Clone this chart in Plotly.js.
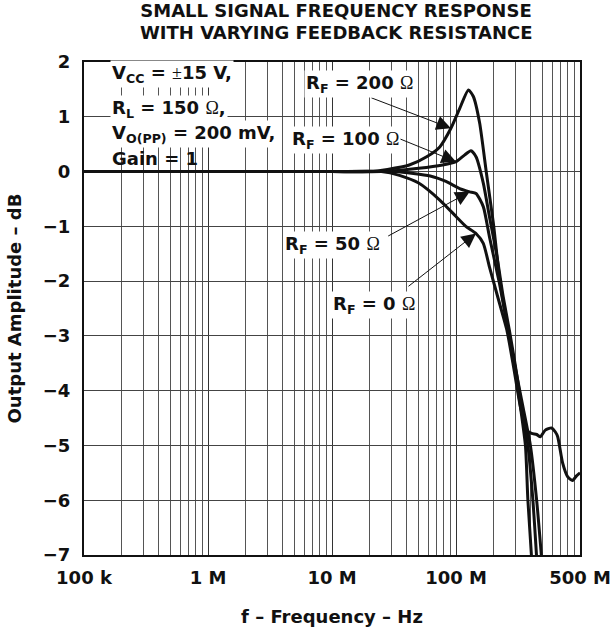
<!DOCTYPE html>
<html><head><meta charset="utf-8">
<script src="https://cdn.plot.ly/plotly-3.0.1.min.js"></script>
<style>html,body{margin:0;padding:0;background:#fff}</style>
</head><body><div id="chart" style="width:614px;height:635px"></div>
<script>
// ---- data ----
const freqRF200 = [1e5, 1e6, 1e7, 2.0e7, 2.8e7, 4.2e7, 5.8e7, 7.4e7, 9.1e7, 1.07e8, 1.26e8, 1.38e8, 1.55e8, 1.76e8, 2.0e8, 2.24e8, 2.63e8, 3.02e8, 3.47e8, 3.98e8, 4.47e8, 4.9e8];
const ampRF200  = [0, 0, 0, 0, 0.04, 0.12, 0.27, 0.45, 0.79, 1.15, 1.49, 1.37, 0.89, -0.03, -0.94, -1.92, -2.89, -3.6, -4.3, -5.0, -6.0, -7.05];

const freqRF100 = [1e5, 1e6, 1e7, 2.5e7, 5.0e7, 7.8e7, 1.0e8, 1.17e8, 1.32e8, 1.45e8, 1.66e8, 1.86e8, 2.14e8, 2.4e8, 2.69e8, 2.99e8, 3.39e8, 3.8e8, 4.17e8, 4.47e8];
const ampRF100  = [0, 0, 0, 0, 0.06, 0.12, 0.18, 0.30, 0.38, 0.27, -0.21, -0.82, -1.55, -2.28, -2.89, -3.5, -4.3, -5.0, -6.0, -7.05];

const freqRF50 = [1e5, 1e6, 1e7, 3.2e7, 6.2e7, 8.3e7, 1.07e8, 1.29e8, 1.45e8, 1.66e8, 1.86e8, 2.24e8, 2.63e8, 2.95e8, 3.31e8, 3.63e8, 3.8e8, 4.07e8];
const ampRF50  = [0, 0, 0, 0, -0.08, -0.18, -0.31, -0.37, -0.40, -0.64, -1.19, -2.04, -2.89, -3.5, -4.3, -5.0, -6.0, -7.05];

const freqRF0 = [1e5, 1e6, 1e7, 2.5e7, 3.5e7, 5.0e7, 7.4e7, 1.0e8, 1.2e8, 1.45e8, 1.66e8, 1.86e8, 2.24e8, 2.57e8, 2.88e8, 3.31e8, 3.72e8, 4.07e8, 4.47e8, 4.79e8, 5.25e8, 5.89e8, 6.31e8, 6.61e8, 7.24e8, 7.94e8, 8.71e8, 9.33e8, 1.0e9];
const ampRF0  = [0, 0, 0, 0, -0.07, -0.21, -0.52, -0.82, -1.00, -1.13, -1.31, -1.74, -2.40, -2.89, -3.5, -4.3, -4.72, -4.78, -4.80, -4.84, -4.72, -4.68, -4.75, -4.84, -5.32, -5.57, -5.64, -5.56, -5.50];

const seriesNames = ['R<sub>F</sub> = 200 Ω', 'R<sub>F</sub> = 100 Ω', 'R<sub>F</sub> = 50 Ω', 'R<sub>F</sub> = 0 Ω'];

const xTickVals = [1e5, 1e6, 1e7, 1e8, 1e9];
const xTickText = ['100 k', '1 M', '10 M', '100 M', '500 M'];
const yTickVals = [2, 1, 0, -1, -2, -3, -4, -5, -6, -7];
const yTickText = ['2', '1', '0', '−1', '−2', '−3', '−4', '−5', '−6', '−7'];
const minorMult = [2, 3, 4, 5, 6, 7, 8, 9];

const conditionLines = ['V<sub>CC</sub> = <span style="font-family:Liberation Serif;font-weight:normal">±</span>15 V,',
                        'R<sub>L</sub> = 150 <span style="font-family:Liberation Serif;font-weight:normal">Ω</span>,',
                        'V<sub>O(PP)</sub> = 200 mV,',
                        'Gain = 1'];

// ---- layout helpers ----
const W = 614, H = 635;
const M = {l: 84, r: 34, t: 62, b: 80};
const PW = W - M.l - M.r, PH = H - M.t - M.b;
const px2paperX = px => (px - M.l) / PW;
const py2paperY = py => (H - M.b - py) / PH;
const FONT = 'DejaVu Sans';
const omega = s => s.replace('Ω', '<span style="font-family:Liberation Serif;font-weight:normal">Ω</span>');

const minorVals = [];
[1e5, 1e6, 1e7, 1e8].forEach(d => minorMult.forEach(m => minorVals.push(d * m)));

const series = [[freqRF200, ampRF200], [freqRF100, ampRF100], [freqRF50, ampRF50], [freqRF0, ampRF0]];
const traces = series.map((s, i) => ({
  x: s[0], y: s[1], type: 'scatter', mode: 'lines', name: seriesNames[i],
  line: {color: '#111', width: 3, shape: 'spline', smoothing: 0.6},
  hoverinfo: 'skip'
}));

// label positions (pixel, left edge & vertical centre) and arrow tails
const labelPos = [[306, 84], [292, 139.5], [285, 244.5], [333, 304.5]];
const tipIdx = [8, 6, 7, 9];
const arrowOff = [[-81, -31], [-59, -24], [-83, 45], [-69, 54]];

const annotations = [];
series.forEach((s, i) => {
  annotations.push({
    xref: 'x', yref: 'y', x: Math.log10(s[0][tipIdx[i]]), y: s[1][tipIdx[i]],
    ax: arrowOff[i][0], ay: arrowOff[i][1], axref: 'pixel', ayref: 'pixel',
    text: '', showarrow: true, arrowhead: 2, arrowsize: 2.9, arrowwidth: 1, arrowcolor: '#111', standoff: 0
  });
});
series.forEach((s, i) => {
  annotations.push({
    xref: 'paper', yref: 'paper', x: px2paperX(labelPos[i][0] - 2), y: py2paperY(labelPos[i][1]),
    xanchor: 'left', yanchor: 'middle', text: omega(seriesNames[i]), showarrow: false,
    bgcolor: '#fff', borderpad: 1,
    font: {family: FONT, size: 18, weight: 'bold', color: '#111'}
  });
});
const condY = [74.5, 109.5, 134, 158.3];
conditionLines.forEach((t, i) => {
  annotations.push({
    xref: 'paper', yref: 'paper', x: px2paperX(110), y: py2paperY(condY[i]),
    xanchor: 'left', yanchor: 'middle', text: t, showarrow: false,
    bgcolor: i < 3 ? '#fff' : 'rgba(0,0,0,0)', borderpad: 1,
    font: {family: FONT, size: 18, weight: 'bold', color: '#111'}
  });
});
annotations.push({
  xref: 'paper', yref: 'paper', x: px2paperX(336), y: py2paperY(33),
  xanchor: 'center', yanchor: 'middle', text: 'WITH VARYING FEEDBACK RESISTANCE', showarrow: false,
  font: {family: FONT, size: 18, weight: 'bold', color: '#111'}
});

const layout = {
  width: W, height: H, margin: {l: M.l, r: M.r, t: M.t, b: M.b, pad: 0},
  paper_bgcolor: '#fff', plot_bgcolor: '#fff', showlegend: false,
  title: {text: 'SMALL SIGNAL FREQUENCY RESPONSE', xref: 'paper', x: px2paperX(336), xanchor: 'center',
          yref: 'container', y: 1 - 11 / H, yanchor: 'middle',
          font: {family: FONT, size: 18, weight: 'bold', color: '#111'}},
  xaxis: {
    type: 'log', range: [5, 9], tickmode: 'array', tickvals: xTickVals, ticktext: xTickText,
    showgrid: true, gridcolor: '#333', gridwidth: 1, zeroline: false,
    minor: {tickmode: 'array', tickvals: minorVals, showgrid: true, gridcolor: '#555', gridwidth: 1, ticks: ''},
    showline: true, linecolor: '#111', linewidth: 2, mirror: true, ticks: '', ticklabelstandoff: 5,
    tickfont: {family: FONT, size: 18, weight: 'bold', color: '#111'},
    title: {text: 'f – Frequency – Hz', standoff: 24, font: {family: FONT, size: 18, weight: 'bold', color: '#111'}}
  },
  yaxis: {
    range: [-7, 2], tickmode: 'array', tickvals: yTickVals, ticktext: yTickText,
    showgrid: true, gridcolor: '#444', gridwidth: 1, zeroline: false,
    showline: true, linecolor: '#111', linewidth: 2, mirror: true, ticks: '', ticklabelstandoff: 8,
    tickfont: {family: FONT, size: 18, weight: 'bold', color: '#111'},
    title: {text: 'Output Amplitude – dB', standoff: 16, font: {family: FONT, size: 18, weight: 'bold', color: '#111'}}
  },
  annotations: annotations
};

Plotly.newPlot('chart', traces, layout, {displayModeBar: false, staticPlot: true});
</script></body></html>
